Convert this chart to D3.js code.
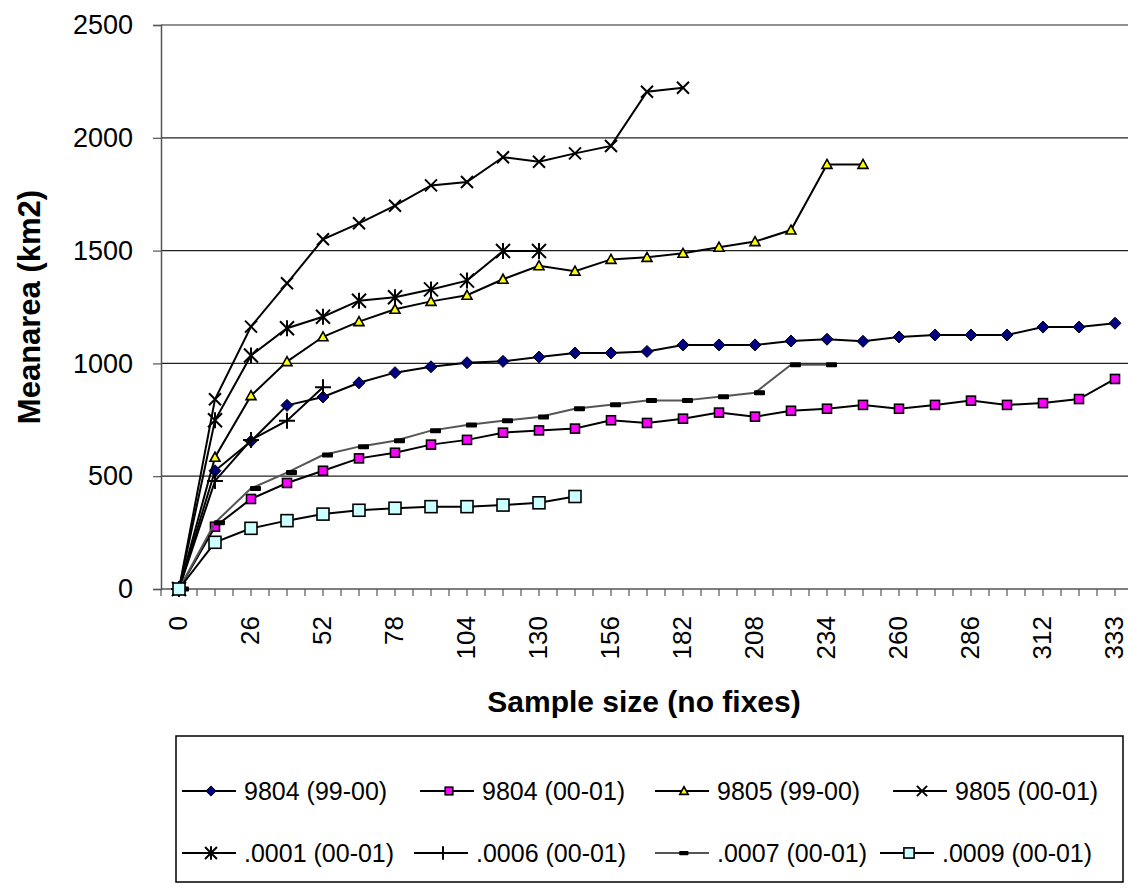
<!DOCTYPE html>
<html>
<head>
<meta charset="utf-8">
<script src="https://cdn.jsdelivr.net/npm/d3@7"></script>
<style>
  body { margin: 0; background: #fff; }
  text { font-family: "Liberation Sans", Arial, sans-serif; }
</style>
</head>
<body>
<script>
// sample size categories (no fixes)
const sampleSizes = [0, 13, 26, 39, 52, 65, 78, 91, 104, 117, 130, 143, 156, 169, 182,
                     195, 208, 221, 234, 247, 260, 273, 286, 299, 312, 325, 333];
const xTickLabels = [0, 26, 52, 78, 104, 130, 156, 182, 208, 234, 260, 286, 312, 333];
const yTicks = [0, 500, 1000, 1500, 2000, 2500];

const seriesNames = ['9804 (99-00)', '9804 (00-01)', '9805 (99-00)', '9805 (00-01)',
                     '.0001 (00-01)', '.0006 (00-01)', '.0007 (00-01)', '.0009 (00-01)'];

// mean area (km2), one value per sample size, series stop where the data stops
const area9804a = [0, 524, 655, 814, 851, 914, 959, 985, 1003, 1009, 1028, 1046, 1046, 1053, 1082,
                   1082, 1082, 1099, 1107, 1098, 1117, 1126, 1126, 1126, 1161, 1161, 1178];
const area9804b = [0, 276, 399, 470, 524, 579, 604, 640, 661, 693, 703, 711, 748, 736, 755,
                   782, 764, 790, 799, 816, 799, 816, 835, 816, 824, 842, 931];
const area9805a = [0, 584, 857, 1008, 1118, 1185, 1240, 1275, 1302, 1373, 1433, 1409, 1461, 1470,
                   1488, 1515, 1540, 1591, 1882, 1882];
const area9805b = [0, 841, 1163, 1355, 1550, 1621, 1699, 1789, 1804, 1914, 1894, 1931, 1964, 2204, 2222];
const area0001 = [0, 748, 1035, 1156, 1207, 1278, 1293, 1328, 1367, 1498, 1498];
const area0006 = [0, 479, 660, 746, 894];
const area0007 = [0, 294, 446, 516, 594, 631, 657, 702, 727, 746, 762, 799, 817, 835, 835,
                  852, 870, 994, 994];
const area0009 = [0, 207, 269, 303, 332, 349, 358, 365, 365, 372, 382, 410];

const seriesValues = [area9804a, area9804b, area9805a, area9805b, area0001, area0006, area0007, area0009];
const markerTypes = ['diamond', 'square', 'triangle', 'cross', 'star', 'plus', 'dash', 'bigsquare'];
const lineColors = ['#000', '#000', '#000', '#000', '#000', '#000', '#555', '#000'];

let width = 1128, height = 892;
let plotLeft = 161, plotTop = 25, plotBottom = 589, band = 36;

let svg = d3.select('body').append('svg')
    .attr('width', width)
    .attr('height', height);

let xScale = d3.scaleBand()
    .domain(sampleSizes)
    .range([plotLeft, plotLeft + band * sampleSizes.length])
    .padding(0);

let yScale = d3.scaleLinear()
    .domain([0, 2500])
    .range([plotBottom, plotTop]);

let xPos = d => xScale(d) + xScale.bandwidth() / 2;

// gridlines
svg.append('g').selectAll('line')
    .data(yTicks.filter(d => d > 0))
    .enter().append('line')
    .attr('x1', plotLeft).attr('x2', xScale.range()[1])
    .attr('y1', d => yScale(d)).attr('y2', d => yScale(d))
    .attr('stroke', '#222').attr('stroke-width', 1.2);

// y axis
let yAxis = d3.axisLeft(yScale).tickValues(yTicks).tickFormat(d3.format('d')).tickSize(8).tickPadding(20);
let yg = svg.append('g').attr('transform', `translate(${plotLeft},0)`).call(yAxis);
yg.select('.domain').attr('stroke', '#555').attr('stroke-width', 1.5);
yg.selectAll('.tick line').attr('stroke', '#555').attr('stroke-width', 1.2);
yg.selectAll('.tick text').attr('font-size', 27).attr('fill', '#000')
    .style('font-family', '"Liberation Sans", Arial, sans-serif');

// x axis: small ticks at every half category, labels on every other category
let tickPos = [];
sampleSizes.forEach(d => { tickPos.push(xScale(d)); tickPos.push(xPos(d)); });
tickPos.push(xScale.range()[1]);
svg.append('line')
    .attr('x1', plotLeft).attr('x2', xScale.range()[1])
    .attr('y1', plotBottom).attr('y2', plotBottom)
    .attr('stroke', '#555').attr('stroke-width', 1.5);
svg.append('g').selectAll('line')
    .data(tickPos)
    .enter().append('line')
    .attr('x1', d => d).attr('x2', d => d)
    .attr('y1', plotBottom).attr('y2', plotBottom + 7)
    .attr('stroke', '#555').attr('stroke-width', 1.2);

let xAxis = d3.axisBottom(xScale).tickValues(xTickLabels).tickSize(0).tickPadding(0);
let xg = svg.append('g').attr('transform', `translate(0,${plotBottom})`).call(xAxis);
xg.select('.domain').remove();
xg.selectAll('.tick text')
    .attr('font-size', 26).attr('fill', '#000')
    .style('font-family', '"Liberation Sans", Arial, sans-serif')
    .attr('text-anchor', 'end')
    .attr('dy', '0.33em')
    .attr('y', 0)
    .attr('transform', 'translate(-1,27) rotate(-90)');

// axis titles
svg.append('text')
    .attr('x', 644).attr('y', 712)
    .attr('text-anchor', 'middle')
    .attr('font-size', 30).attr('font-weight', 'bold')
    .text('Sample size (no fixes)');
svg.append('text')
    .attr('transform', `translate(40,${(plotTop + plotBottom) / 2}) rotate(-90)`)
    .attr('text-anchor', 'middle')
    .attr('font-size', 31).attr('font-weight', 'bold')
    .text('Meanarea (km2)');

// markers
let drawMarker = (g, type, s) => {
    if (type === 'diamond') {
        g.append('path').attr('d', `M0,${-6 * s}L${6 * s},0L0,${6 * s}L${-6 * s},0Z`)
            .attr('fill', '#000080').attr('stroke', '#000').attr('stroke-width', 1);
    } else if (type === 'square') {
        g.append('rect').attr('x', -4.5 * s).attr('y', -4.5 * s).attr('width', 9 * s).attr('height', 9 * s)
            .attr('fill', '#FF00FF').attr('stroke', '#000').attr('stroke-width', 1.6);
    } else if (type === 'triangle') {
        g.append('path').attr('d', `M0,${-5 * s}L${5 * s},${4 * s}L${-5 * s},${4 * s}Z`)
            .attr('fill', '#FFFF00').attr('stroke', '#000').attr('stroke-width', 1.6);
    } else if (type === 'cross') {
        g.append('path').attr('d', `M${-6 * s},${-6 * s}L${6 * s},${6 * s}M${6 * s},${-6 * s}L${-6 * s},${6 * s}`)
            .attr('stroke', '#000').attr('stroke-width', 2);
    } else if (type === 'star') {
        g.append('path').attr('d', `M${-7 * s},${-7 * s}L${7 * s},${7 * s}M${7 * s},${-7 * s}L${-7 * s},${7 * s}M0,${-8 * s}L0,${8 * s}`)
            .attr('stroke', '#000').attr('stroke-width', 2);
    } else if (type === 'plus') {
        g.append('path').attr('d', `M${-8 * s},0H${8 * s}M0,${-8 * s}V${8 * s}`)
            .attr('stroke', '#000').attr('stroke-width', 2);
    } else if (type === 'dash') {
        g.append('rect').attr('x', -1 * s).attr('y', -2.5 * s).attr('width', 11 * s).attr('height', 5 * s)
            .attr('rx', 1).attr('fill', '#000');
    } else if (type === 'bigsquare') {
        g.append('rect').attr('x', -6 * s).attr('y', -6 * s).attr('width', 12 * s).attr('height', 12 * s)
            .attr('fill', '#CCFFFF').attr('stroke', '#000').attr('stroke-width', 1.6);
    }
};

let line = d3.line()
    .x((d, i) => xPos(sampleSizes[i]))
    .y(d => yScale(d));

seriesValues.forEach((vals, k) => {
    svg.append('path')
        .datum(vals)
        .attr('d', line)
        .attr('fill', 'none')
        .attr('stroke', lineColors[k])
        .attr('stroke-width', 2);
    svg.append('g').selectAll('g')
        .data(vals)
        .enter().append('g')
        .attr('transform', (d, i) => `translate(${xPos(sampleSizes[i])},${yScale(d)})`)
        .each(function() { drawMarker(d3.select(this), markerTypes[k], 1); });
});

// legend
let legendX = 176, legendY = 736, legendW = 947, legendH = 146;
let legend = svg.append('g');
legend.append('rect')
    .attr('x', legendX).attr('y', legendY)
    .attr('width', legendW).attr('height', legendH)
    .attr('fill', '#fff').attr('stroke', '#000').attr('stroke-width', 1.5);
let itemX = [6, 244, 479, 717, 6, 238, 479, 704];
let rowY = [55, 117];
seriesNames.forEach((name, k) => {
    let gx = legendX + itemX[k], gy = legendY + rowY[Math.floor(k / 4)];
    let item = legend.append('g').attr('transform', `translate(${gx},${gy})`);
    item.append('line').attr('x1', 0).attr('x2', 54).attr('y1', 0).attr('y2', 0)
        .attr('stroke', lineColors[k]).attr('stroke-width', 2);
    drawMarker(item.append('g').attr('transform', `translate(${k === 6 ? 25 : 29},0)`), markerTypes[k], 0.85);
    item.append('text').attr('x', 62).attr('y', 0).attr('dy', '0.35em')
        .attr('font-size', 25).text(name);
});
</script>
</body>
</html>
